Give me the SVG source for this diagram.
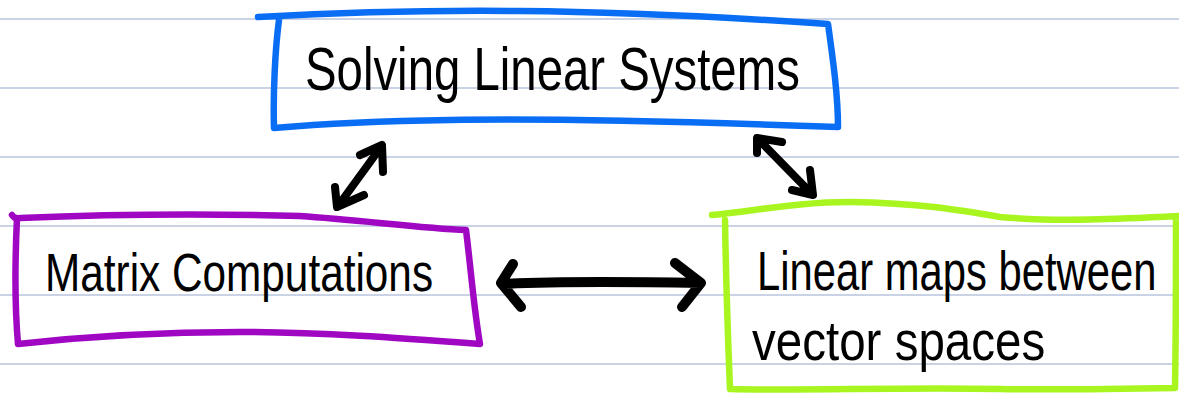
<svg xmlns="http://www.w3.org/2000/svg" width="1179" height="395" viewBox="0 0 1179 395">
<style>
.rule{stroke:#b7c5dd;stroke-width:1.5;fill:none}
.box{fill:none;stroke-width:6.5;stroke-linecap:round;stroke-linejoin:round}
.lbl{font-family:"Liberation Sans","DejaVu Sans",sans-serif;fill:#000;font-weight:normal}
.arr{fill:none;stroke:#000;stroke-linecap:round;stroke-linejoin:round}
</style>
<rect width="1179" height="395" fill="#fff"/>
<g id="ruling">
<line class="rule" x1="0" y1="19" x2="1179" y2="19"/>
<line class="rule" x1="0" y1="88" x2="1179" y2="88"/>
<line class="rule" x1="0" y1="157" x2="1179" y2="157"/>
<line class="rule" x1="0" y1="226" x2="1179" y2="226"/>
<line class="rule" x1="0" y1="295" x2="1179" y2="295"/>
<line class="rule" x1="0" y1="364" x2="1179" y2="364"/>
</g>
<g id="connectors">
<path class="arr" stroke-width="10" d="M502 284 C560 281 640 282 701 283 M513 264 L501 283 L521 307 M675 263 L701 283 L682 307"/>
<path class="arr" stroke-width="8" d="M338 206 L381 147 M360 155 L382 145 L383 172 M335 187 L337 207 L364 195"/>
<path class="arr" stroke-width="8" d="M758 139 L811 193 M782 142 L757 138 L757 153 M810 170 L813 195 L792 190"/>
</g>
<g id="node-solving">
<path class="box" stroke="#0a6ef5" d="M258 17 C330 13 420 10 520 11 C640 12 740 18 828 24 C833 60 838 95 838 127 C700 122 560 118 450 120 C380 121 320 124 274 128 C273 95 275 50 279 20"/>
<text class="lbl" font-size="62" transform="translate(305 90) scale(0.764 1)">Solving Linear Systems</text>
</g>
<g id="node-matrix">
<path class="box" stroke="#a007c2" d="M12 215 C14 218 17 219 20 218 C120 214 220 214 300 216 C360 220 420 228 466 230 C471 270 474 310 480 344 C400 338 320 332 240 332 C160 332 90 336 18 344 C15 310 15 260 17 218"/>
<text class="lbl" font-size="54" transform="translate(45 291) scale(0.784 1)">Matrix Computations</text>
</g>
<g id="node-linear">
<path class="box" stroke="#a9f51f" d="M712 215 C760 210 800 202 850 202 C920 203 960 210 1000 217 C1060 222 1120 219 1179 216 M725 220 C726 280 728 340 730 389 C800 391 900 387 1000 389 C1060 390 1120 389 1175 388 C1176 330 1176 270 1176 220"/>
<text class="lbl" font-size="55" transform="translate(757 290) scale(0.76 1)">Linear maps between</text>
<text class="lbl" font-size="56" transform="translate(752 360) scale(0.849 1)">vector spaces</text>
</g>
</svg>
